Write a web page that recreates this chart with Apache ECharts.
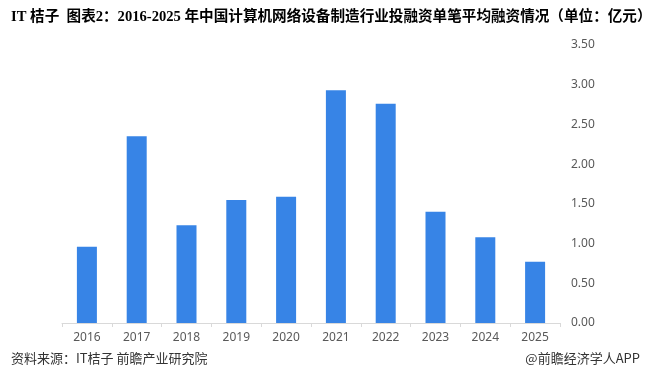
<!DOCTYPE html>
<html><head><meta charset="utf-8">
<script src="https://cdn.jsdelivr.net/npm/echarts@6/dist/echarts.min.js"></script>
<style>html,body{margin:0;padding:0;background:#fff}#c{width:647px;height:373px}</style>
</head><body><div id="c"></div>
<script>
const categories = ['2016','2017','2018','2019','2020','2021','2022','2023','2024','2025'];
const values = [0.96, 2.35, 1.23, 1.55, 1.59, 2.93, 2.76, 1.40, 1.08, 0.77];
const titleText = 'IT 桔子  图表2：2016-2025 年中国计算机网络设备制造行业投融资单笔平均融资情况（单位：亿元）';
const sourceText = '资料来源：IT桔子 前瞻产业研究院';
const brandText = '@前瞻经济学人APP';

const chart = echarts.init(document.getElementById('c'), null, {renderer:'canvas'});
chart.setOption({
  animation:false,
  backgroundColor:'#fff',
  title:[
    {text:titleText, left:6, top:5, textStyle:{fontFamily:'"Liberation Serif","Noto Sans CJK SC",serif', fontWeight:'bold', fontSize:14.6, color:'#000'}},
    {text:sourceText, left:6, bottom:3, textStyle:{fontFamily:'"Noto Sans CJK SC",sans-serif', fontWeight:'normal', fontSize:13, color:'#333'}},
    {text:brandText, right:2, bottom:3, textStyle:{fontFamily:'"Noto Sans CJK SC",sans-serif', fontWeight:'normal', fontSize:13, color:'#333'}}
  ],
  grid:{left:62, right:87, top:45, bottom:50},
  xAxis:{
    type:'category', data:categories,
    axisLine:{lineStyle:{color:'#d9d9d9'}},
    axisTick:{show:true, length:4, lineStyle:{color:'#d9d9d9'}},
    axisLabel:{color:'#595959', fontSize:12, margin:9, fontFamily:'"Noto Sans","Open Sans",sans-serif'}
  },
  yAxis:{
    type:'value', position:'right', min:0, max:3.5, interval:0.5,
    axisLine:{show:false}, axisTick:{show:false}, splitLine:{show:false},
    axisLabel:{color:'#595959', fontSize:12, margin:11, formatter:v=>v.toFixed(2), fontFamily:'"Noto Sans","Open Sans",sans-serif'}
  },
  series:[{type:'bar', data:values, barWidth:20, itemStyle:{color:'#3784E6'}}]
});
</script></body></html>
